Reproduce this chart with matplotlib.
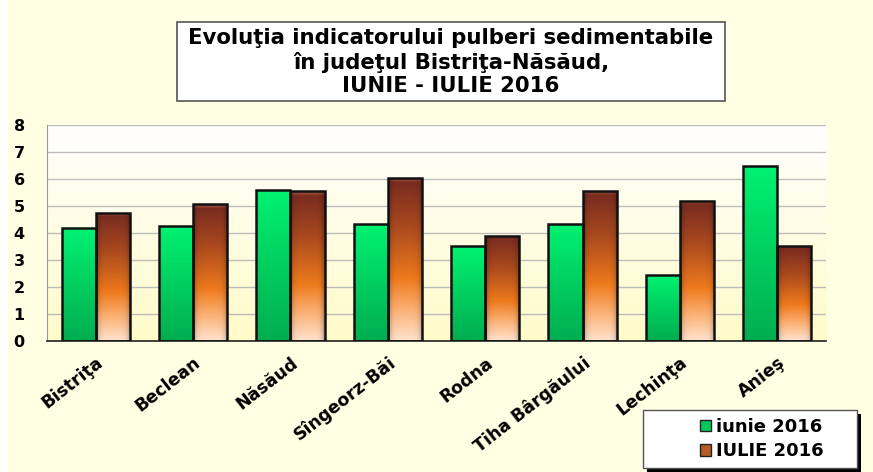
import numpy as np
import matplotlib
matplotlib.use('Agg')
import matplotlib.pyplot as plt
from matplotlib.colors import LinearSegmentedColormap
from matplotlib.patches import Rectangle, Patch

# the original image is horizontally stretched; a wide bold face comes closest
plt.rcParams['font.family'] = ['DejaVu Sans']
plt.rcParams['font.weight'] = 'bold'

# Data
stations = ['Bistriţa', 'Beclean', 'Năsăud', 'Sîngeorz-Băi', 'Rodna',
            'Tiha Bârgăului', 'Lechinţa', 'Anieş']
iunie_2016 = [4.17, 4.27, 5.59, 4.33, 3.51, 4.35, 2.44, 6.47]
iulie_2016 = [4.75, 5.06, 5.54, 6.04, 3.90, 5.57, 5.20, 3.53]
series_labels = ['iunie 2016', 'IULIE 2016']
title_lines = ['Evoluţia indicatorului pulberi sedimentabile',
               'în judeţul Bistriţa-Năsăud,',
               'IUNIE - IULIE 2016']

green_cmap = LinearSegmentedColormap.from_list(
    'g', [(0, '#00ad50'), (0.5, '#00cf5f'), (1, '#00f272')])
brown_cmap = LinearSegmentedColormap.from_list(
    'b', [(0, '#ffe3cf'), (0.2, '#fbae70'), (0.38, '#ee7a1c'),
          (0.7, '#a9491e'), (0.97, '#7a2c20'), (1, '#b0604c')])
bg_cmap = LinearSegmentedColormap.from_list('bg', [(0, '#fffbc9'), (1, '#ffffff')])

fig = plt.figure(figsize=(8.73, 4.72), dpi=100)
fig.patch.set_facecolor('#ffffe3')
fig.add_artist(Rectangle((0, 0), 8 / 873, 1, transform=fig.transFigure,
                         facecolor='white', edgecolor='none', zorder=0))

ax = fig.add_axes([47 / 873, 131 / 472, 779 / 873, 216 / 472])

# plot area gradient
grad = np.linspace(0, 1, 256).reshape(-1, 1)
ax.imshow(grad, cmap=bg_cmap, origin='lower', aspect='auto',
          extent=[0, 1, 0, 1], transform=ax.transAxes, zorder=0)

ax.set_yticks(range(0, 9))
ax.grid(axis='y', color='#bdbdbd', linewidth=1.0, zorder=1)
ax.set_axisbelow(True)

x = np.arange(len(stations))
w = 0.35


def gradient_bars(xpos, vals, cmap, shade):
    bars = ax.bar(xpos, vals, w, color='none', edgecolor='none', zorder=2)
    for b in bars:
        x0, x1 = b.get_x(), b.get_x() + b.get_width()
        h = b.get_height()
        if shade:
            # darker sides for the bevelled look
            xx = np.linspace(0, 1, 64)
            side = 1 - 0.35 * (np.abs(xx - 0.5) * 2) ** 6
            img = cmap(np.linspace(0, 1, 256))[:, None, :3] * side[None, :, None]
        else:
            img = cmap(np.linspace(0, 1, 256))[:, None, :3].repeat(2, axis=1)
        im = ax.imshow(img, origin='lower', aspect='auto',
                       extent=[x0, x1, 0, h], zorder=2.5)
        im.set_clip_path(b)
    ax.bar(xpos, vals, w, fill=False, edgecolor='#111111', linewidth=1.8, zorder=3)
    return bars


gradient_bars(x - w / 2, iunie_2016, green_cmap, False)
gradient_bars(x + w / 2, iulie_2016, brown_cmap, True)
ax.set_xlim(-0.5, len(stations) - 0.5)
ax.set_ylim(0, 8)

for s in ['top', 'right']:
    ax.spines[s].set_visible(False)
ax.spines['left'].set_color('#9a9a9a')
ax.spines['bottom'].set_color('#222222')
ax.spines['bottom'].set_linewidth(1.2)

ax.tick_params(axis='both', length=0)
ax.tick_params(axis='y', labelsize=11.5, pad=16)
ax.set_xticks(x)
ax.set_xticklabels(stations, rotation=38, ha='right', rotation_mode='anchor',
                   fontsize=12.5)
ax.tick_params(axis='x', pad=9)

# title box
fig.add_artist(Rectangle((177 / 873, 1 - 101 / 472), 548 / 873, 79 / 472,
                         transform=fig.transFigure, facecolor='white',
                         edgecolor='#555555', linewidth=1.2, zorder=5))
fig.text(451 / 873, 1 - 62 / 472, '\n'.join(title_lines), ha='center',
         va='center', fontsize=15.3, fontweight='bold', linespacing=1.22, zorder=6)

# legend box with black drop shadow
fig.add_artist(Rectangle((647 / 873, 1 - 472 / 472), 214 / 873, 58 / 472,
                         transform=fig.transFigure, facecolor='black',
                         edgecolor='none', zorder=5))
fig.add_artist(Rectangle((643 / 873, 1 - 468 / 472), 214 / 873, 58 / 472,
                         transform=fig.transFigure, facecolor='white',
                         edgecolor='#555555', linewidth=1.0, zorder=5))
handles = [Patch(facecolor='#00c95c', edgecolor='#222222'),
           Patch(facecolor='#b85a24', edgecolor='#222222')]
leg = fig.legend(handles, series_labels, loc='center',
                 bbox_to_anchor=(762 / 873, 1 - 439 / 472),
                 fontsize=13, frameon=False,
                 handlelength=0.6, handleheight=0.6, handletextpad=0.3,
                 borderpad=0.2, borderaxespad=0, labelspacing=0.35)
leg.set_zorder(6)
for t in leg.get_texts():
    t.set_fontweight('bold')

fig.savefig('out.png', dpi=100, facecolor=fig.get_facecolor())
